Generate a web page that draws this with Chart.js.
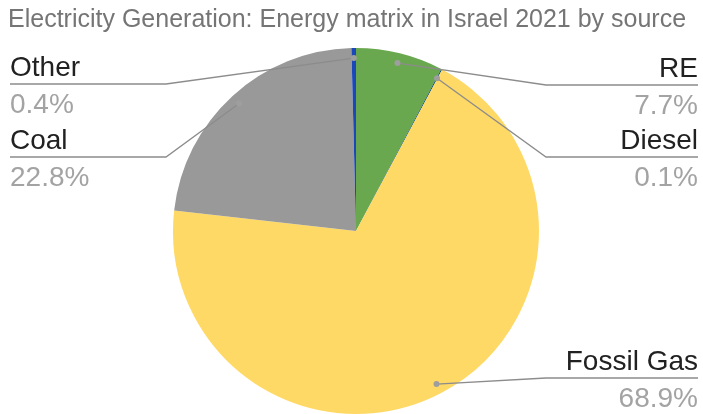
<!DOCTYPE html>
<html>
<head>
<meta charset="utf-8">
<title>Electricity Generation: Energy matrix in Israel 2021</title>
<script src="https://cdn.jsdelivr.net/npm/chart.js@4"></script>
<style>
  html, body { margin: 0; padding: 0; background: #fff; }
  #wrap { position: relative; width: 703px; height: 414px; }
</style>
</head>
<body>
<div id="wrap"><canvas id="pie"></canvas></div>
<script>
// share of generation by source, in percent
const sources = ['RE', 'Diesel', 'Fossil Gas', 'Coal', 'Other'];
const shares = [7.7, 0.1, 68.9, 22.8, 0.4];
const sliceColors = ['#6aa84f', '#134f6b', '#ffd966', '#999999', '#1a48b9'];

// where each callout sits: side of the chart and the y of its underline
const callouts = [
    { side: 'right', lineY: 85 },
    { side: 'right', lineY: 157 },
    { side: 'right', lineY: 378 },
    { side: 'left', lineY: 157 },
    { side: 'left', lineY: 84 }
];

const FONT = '"Liberation Sans", Arial, sans-serif';

const calloutPlugin = {
    id: 'callouts',
    afterDraw(chart) {
        const ctx = chart.ctx;
        const arcs = chart.getDatasetMeta(0).data;
        ctx.save();

        // title
        ctx.font = '25px ' + FONT;
        ctx.fillStyle = '#757575';
        ctx.textAlign = 'left';
        ctx.textBaseline = 'alphabetic';
        ctx.fillText('Electricity Generation: Energy matrix in Israel 2021 by source', 8, 27);

        arcs.forEach((arc, i) => {
            const c = callouts[i];
            const mid = (arc.startAngle + arc.endAngle) / 2;
            const r = arc.outerRadius * 0.945;
            const px = arc.x + Math.cos(mid) * r;
            const py = arc.y + Math.sin(mid) * r;
            const left = c.side === 'left';
            const elbowX = left ? 166 : 546;
            const endX = left ? 10 : 698;

            ctx.strokeStyle = '#8c8c8c';
            ctx.lineWidth = 1.3;
            ctx.beginPath();
            ctx.moveTo(px, py);
            ctx.lineTo(elbowX, c.lineY);
            ctx.lineTo(endX, c.lineY);
            ctx.stroke();

            ctx.fillStyle = '#9e9e9e';
            ctx.beginPath();
            ctx.arc(px, py, 3, 0, Math.PI * 2);
            ctx.fill();

            ctx.textAlign = left ? 'left' : 'right';
            ctx.font = '28px ' + FONT;
            ctx.fillStyle = '#212121';
            ctx.fillText(sources[i], endX, c.lineY - 8);
            ctx.fillStyle = '#a3a3a3';
            ctx.fillText(shares[i].toFixed(1) + '%', endX, c.lineY + 29);
        });
        ctx.restore();
    }
};

new Chart(document.getElementById('pie'), {
    type: 'pie',
    data: {
        labels: sources,
        datasets: [{
            data: shares,
            backgroundColor: sliceColors,
            borderWidth: 0
        }]
    },
    options: {
        responsive: true,
        maintainAspectRatio: false,
        animation: false,
        layout: { padding: { top: 48, left: 9, right: 0, bottom: 0 } },
        plugins: {
            legend: { display: false },
            tooltip: { enabled: false }
        }
    },
    plugins: [calloutPlugin]
});
</script>
</body>
</html>
